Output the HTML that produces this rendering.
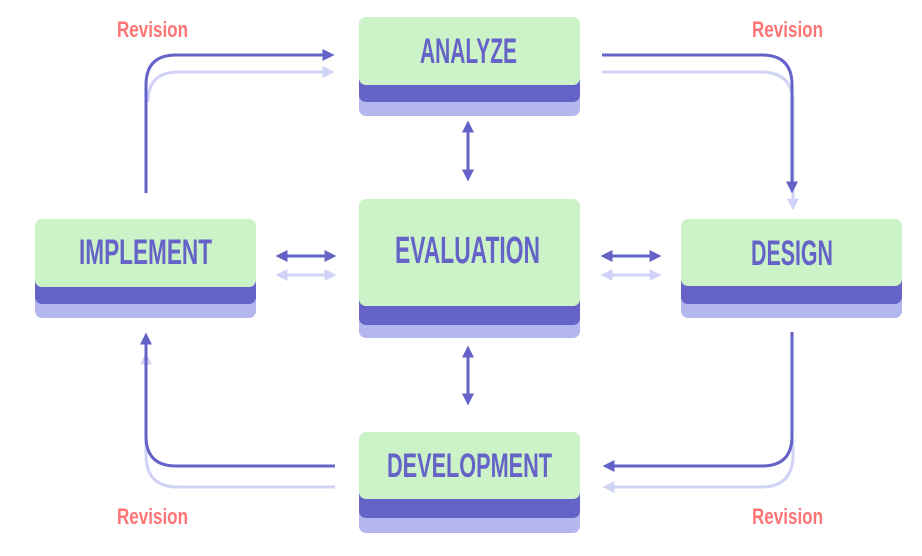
<!DOCTYPE html>
<html><head><meta charset="utf-8"><style>
html,body{margin:0;padding:0;background:#fff;}
svg{display:block}
text{font-family:"Liberation Sans",sans-serif;font-weight:bold;}
</style></head><body>
<svg width="922" height="556" viewBox="0 0 922 556" xmlns="http://www.w3.org/2000/svg">
<defs>
<marker id="ad" markerWidth="4" markerHeight="4" refX="2.5" refY="2" orient="auto" markerUnits="strokeWidth"><path d="M0,0 L4,2 L0,4 z" fill="#6563c7"/></marker>
<marker id="al" markerWidth="4" markerHeight="4" refX="2.5" refY="2" orient="auto" markerUnits="strokeWidth"><path d="M0,0 L4,2 L0,4 z" fill="#d0d3f5"/></marker>
<marker id="adb" markerWidth="4" markerHeight="4" refX="1.5" refY="2" orient="auto-start-reverse" markerUnits="strokeWidth"><path d="M0,0 L4,2 L0,4 z" fill="#6563c7"/></marker>
<marker id="alb" markerWidth="4" markerHeight="4" refX="1.5" refY="2" orient="auto-start-reverse" markerUnits="strokeWidth"><path d="M0,0 L4,2 L0,4 z" fill="#d0d3f5"/></marker>
</defs>
<g fill="none" stroke-width="3">
<path d="M148,100 V102 Q148,72 178,72 H330" stroke="#d0d3f5" marker-end="url(#al)"/>
<path d="M602,72 H761 Q793,72 793,104 V206" stroke="#d0d3f5" marker-end="url(#al)"/>
<path d="M793,440 V455 Q793,487 761,487 H607" stroke="#d0d3f5" marker-end="url(#al)"/>
<path d="M335,487 H178 Q146,487 146,455 V357" stroke="#d0d3f5" marker-end="url(#al)"/>
<path d="M146,193 V85 Q146,55 176,55 H330" stroke="#6563c7" marker-end="url(#ad)"/>
<path d="M602,55 H762 Q792,55 792,85 V189" stroke="#6563c7" marker-end="url(#ad)"/>
<path d="M792,332 V436 Q792,466 762,466 H607" stroke="#6563c7" marker-end="url(#ad)"/>
<path d="M335,466 H176 Q146,466 146,436 V337" stroke="#6563c7" marker-end="url(#ad)"/>
<path d="M283,275 H329" stroke="#d0d3f5" marker-start="url(#alb)" marker-end="url(#alb)"/>
<path d="M283,256 H329" stroke="#6563c7" marker-start="url(#adb)" marker-end="url(#adb)"/>
<path d="M608,275 H654" stroke="#d0d3f5" marker-start="url(#alb)" marker-end="url(#alb)"/>
<path d="M608,256 H654" stroke="#6563c7" marker-start="url(#adb)" marker-end="url(#adb)"/>
<path d="M468,128 V174" stroke="#6563c7" marker-start="url(#adb)" marker-end="url(#adb)"/>
<path d="M468,353 V398" stroke="#6563c7" marker-start="url(#adb)" marker-end="url(#adb)"/>
</g>
<g>
<rect x="359" y="70" width="221" height="46" rx="7" fill="#b3b7ee"/>
<rect x="359" y="55" width="221" height="47" rx="7" fill="#6563c7"/>
<rect x="359" y="17" width="221" height="68" rx="7" fill="#ccf2c8"/>
<text x="420" y="63" font-size="35" textLength="97" lengthAdjust="spacingAndGlyphs" fill="#6563c7">ANALYZE</text>

<rect x="35" y="272" width="221" height="46" rx="7" fill="#b3b7ee"/>
<rect x="35" y="258" width="221" height="46" rx="7" fill="#6563c7"/>
<rect x="35" y="219" width="221" height="68" rx="7" fill="#ccf2c8"/>
<text x="79" y="264" font-size="35" textLength="133" lengthAdjust="spacingAndGlyphs" fill="#6563c7">IMPLEMENT</text>

<rect x="359" y="292" width="221" height="46" rx="7" fill="#b3b7ee"/>
<rect x="359" y="278" width="221" height="47" rx="7" fill="#6563c7"/>
<rect x="359" y="199" width="221" height="107" rx="7" fill="#ccf2c8"/>
<text x="395" y="263" font-size="38" textLength="145" lengthAdjust="spacingAndGlyphs" fill="#6563c7">EVALUATION</text>

<rect x="681" y="272" width="221" height="46" rx="7" fill="#b3b7ee"/>
<rect x="681" y="258" width="221" height="46" rx="7" fill="#6563c7"/>
<rect x="681" y="219" width="221" height="67" rx="7" fill="#ccf2c8"/>
<text x="751" y="265" font-size="35" textLength="82" lengthAdjust="spacingAndGlyphs" fill="#6563c7">DESIGN</text>

<rect x="359" y="487" width="221" height="46" rx="7" fill="#b3b7ee"/>
<rect x="359" y="471" width="221" height="47" rx="7" fill="#6563c7"/>
<rect x="359" y="432" width="221" height="67" rx="7" fill="#ccf2c8"/>
<text x="387" y="477" font-size="34" textLength="165" lengthAdjust="spacingAndGlyphs" fill="#6563c7">DEVELOPMENT</text>
</g>
<g font-size="22" fill="#ff7575">
<text x="117" y="37" textLength="71" lengthAdjust="spacingAndGlyphs">Revision</text>
<text x="752" y="37" textLength="71" lengthAdjust="spacingAndGlyphs">Revision</text>
<text x="117" y="524" textLength="71" lengthAdjust="spacingAndGlyphs">Revision</text>
<text x="752" y="524" textLength="71" lengthAdjust="spacingAndGlyphs">Revision</text>
</g>
</svg>
</body></html>
